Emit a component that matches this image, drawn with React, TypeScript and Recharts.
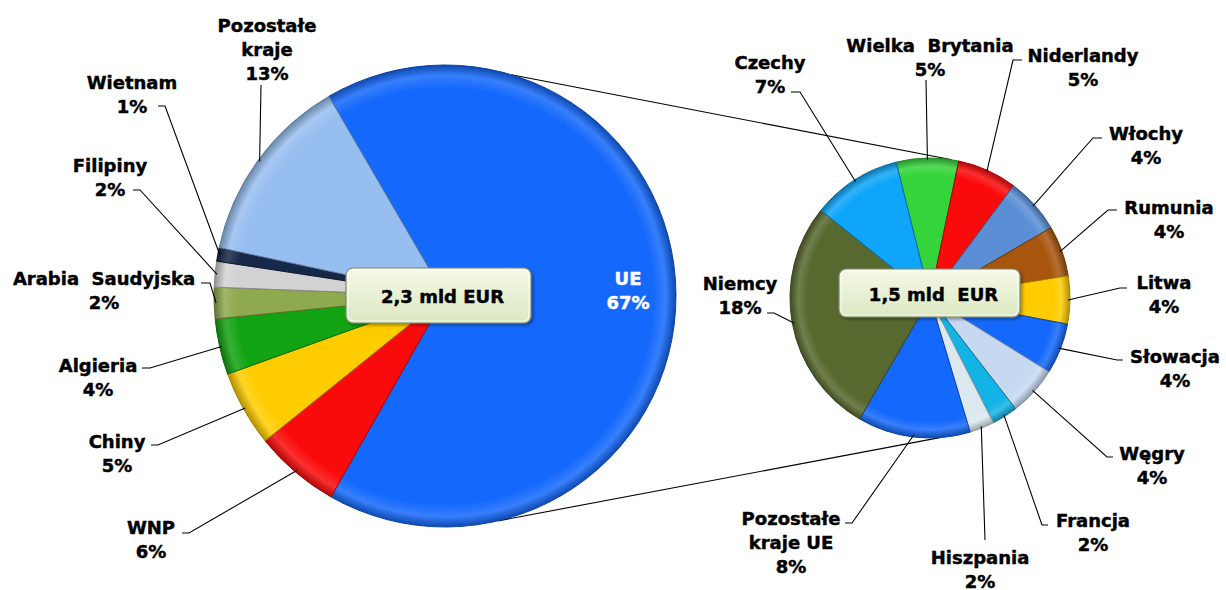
import React from 'react';
import { PieChart, Pie, Cell } from 'recharts';

// ---------- data ----------
const leftNames = ['UE', 'WNP', 'Chiny', 'Algieria', 'Arabia Saudyjska', 'Filipiny', 'Wietnam', 'Pozostałe kraje'];
const leftValues = [66.6, 6.0, 5.3, 3.9, 2.2, 1.8, 0.95, 13.25];
const leftPct = ['67%', '6%', '5%', '4%', '2%', '2%', '1%', '13%'];
const leftLabelLines = [['UE'], ['WNP'], ['Chiny'], ['Algieria'], ['Arabia  Saudyjska'], ['Filipiny'], ['Wietnam'], ['Pozostałe', 'kraje']];
const leftColors = ['#1468fb', '#fa0a0a', '#ffcc00', '#12a312', '#8fa94f', '#d2d2d2', '#16284a', '#97bef0'];

const rightNames = ['Wielka Brytania', 'Niderlandy', 'Włochy', 'Rumunia', 'Litwa', 'Słowacja', 'Węgry', 'Francja', 'Hiszpania', 'Pozostałe kraje UE', 'Niemcy', 'Czechy'];
const rightValues = [4.8, 4.6, 4.3, 3.9, 3.7, 3.9, 3.8, 2.0, 1.9, 8.7, 18.3, 6.9];
const rightPct = ['5%', '5%', '4%', '4%', '4%', '4%', '4%', '2%', '2%', '8%', '18%', '7%'];
const rightLabelLines = [['Wielka  Brytania'], ['Niderlandy'], ['Włochy'], ['Rumunia'], ['Litwa'], ['Słowacja'], ['Węgry'], ['Francja'], ['Hiszpania'], ['Pozostałe', 'kraje UE'], ['Niemcy'], ['Czechy']];
const rightColors = ['#35d43a', '#fa0a0a', '#5a8fd6', '#a8560e', '#ffcc00', '#1468fb', '#c6d9f1', '#12b4e6', '#dbe9ef', '#1468fb', '#58692f', '#0ea5fa'];

const leftTotalLabel = '2,3 mld EUR';
const rightTotalLabel = '1,5 mld  EUR';

// ---------- layout ----------
const LEFT = { cx: 445, cy: 296, r: 231, start: 120.2 };
const RIGHT = { cx: 930, cy: 298, r: 140, start: 104 };
const FONT = '"DejaVu Sans", Verdana, sans-serif';
const FS = 18;
const LH = 24;

type LP = { tx: number; ty: number; a?: [number, number]; e?: [number, number]; inside?: boolean };
const leftLayout: LP[] = [
  { tx: 628, ty: 278, inside: true },
  { tx: 151, ty: 527, a: [182, 533], e: [189, 533] },
  { tx: 117, ty: 441, a: [151, 445], e: [158, 445] },
  { tx: 98, ty: 365, a: [142, 368], e: [150, 368] },
  { tx: 104, ty: 278, a: [201, 283], e: [210, 283] },
  { tx: 110, ty: 165, a: [133, 190], e: [140, 190] },
  { tx: 132, ty: 82, a: [158, 106], e: [165, 106] },
  { tx: 267, ty: 25, a: [261, 85], e: [261, 85] },
];
const rightLayout: LP[] = [
  { tx: 930, ty: 45, a: [926, 80], e: [926, 80] },
  { tx: 1083, ty: 55, a: [1022, 60], e: [1013, 60] },
  { tx: 1146, ty: 133, a: [1102, 138], e: [1093, 138] },
  { tx: 1169, ty: 207, a: [1117, 210], e: [1108, 210] },
  { tx: 1164, ty: 282, a: [1127, 288], e: [1120, 288] },
  { tx: 1175, ty: 356, a: [1123, 360], e: [1117, 360] },
  { tx: 1152, ty: 453, a: [1113, 457], e: [1107, 457] },
  { tx: 1093, ty: 520, a: [1048, 525], e: [1042, 525] },
  { tx: 980, ty: 557, a: [985, 540], e: [985, 540] },
  { tx: 791, ty: 518, a: [845, 523], e: [852, 523] },
  { tx: 740, ty: 283, a: [767, 313], e: [774, 313] },
  { tx: 770, ty: 62, a: [791, 92], e: [800, 92] },
];

// connector angles (clockwise from top, degrees) on [left pie, right pie]
const connectors = [
  [16.7, 9],
  [166.8, 176],
];

const RAD = Math.PI / 180;

function shade(hex: string, f: number) {
  const n = parseInt(hex.slice(1), 16);
  let r = (n >> 16) & 255, g = (n >> 8) & 255, b = n & 255;
  if (f < 0) {
    r = Math.round(r * (1 + f)); g = Math.round(g * (1 + f)); b = Math.round(b * (1 + f));
  } else {
    r = Math.round(r + (255 - r) * f); g = Math.round(g + (255 - g) * f); b = Math.round(b + (255 - b) * f);
  }
  return `rgb(${r},${g},${b})`;
}

const makeLabel = (layout: LP[], lines: string[][], pct: string[]) => (props: any) => {
  const { cx, cy, midAngle, outerRadius, index } = props;
  const L = layout[index];
  if (!L) return null;
  const textLines = [...lines[index], pct[index]];
  const fill = L.inside ? '#ffffff' : '#000000';
  let line = null;
  if (L.a && L.e) {
    const px = cx + (outerRadius - 2) * Math.cos(-midAngle * RAD);
    const py = cy + (outerRadius - 2) * Math.sin(-midAngle * RAD);
    line = (
      <polyline
        points={`${L.a[0]},${L.a[1]} ${L.e[0]},${L.e[1]} ${px},${py}`}
        fill="none"
        stroke="#000"
        strokeWidth={1.1}
      />
    );
  }
  return (
    <g key={`lbl-${index}`}>
      {line}
      {textLines.map((t, k) => (
        <text
          key={k}
          x={L.tx}
          y={L.ty + k * LH}
          textAnchor="middle"
          dominantBaseline="central"
          fontFamily={FONT}
          fontWeight="bold"
          fontSize={FS}
          fill={fill}
          stroke={fill}
          strokeWidth={0.45}
          style={{ whiteSpace: 'pre' }}
        >
          {t}
        </text>
      ))}
    </g>
  );
};

const leftData = leftNames.map((n, i) => ({ name: n, value: leftValues[i] }));
const rightData = rightNames.map((n, i) => ({ name: n, value: rightValues[i] }));

function polar(p: { cx: number; cy: number; r: number }, deg: number) {
  return [p.cx + p.r * Math.sin(deg * RAD), p.cy - p.r * Math.cos(deg * RAD)];
}

const TotalBox = ({ x, y, w, h, label }: { x: number; y: number; w: number; h: number; label: string }) => (
  <g>
    <rect x={x} y={y} width={w} height={h} rx={7} ry={7} fill="url(#boxFill)" stroke="#7d8a6c" strokeWidth={1.2} filter="url(#boxShadow)" />
    <rect x={x + 2} y={y + 2} width={w - 4} height={h - 4} rx={5} ry={5} fill="none" stroke="#ffffff" strokeOpacity={0.7} strokeWidth={1.2} />
    <text x={x + w / 2 + 4} y={y + h / 2 + 1} textAnchor="middle" dominantBaseline="central" fontFamily={FONT} fontWeight="bold" fontSize={FS} fill="#000" stroke="#000" strokeWidth={0.45} style={{ whiteSpace: 'pre' }}>
      {label}
    </text>
  </g>
);

export default function App() {
  const conLines = connectors.map(([a, b]) => {
    const p1 = polar(LEFT, a);
    const p2 = polar(RIGHT, b);
    return [p1, p2];
  });
  return (
    <div style={{ position: 'absolute', left: 0, top: 0, width: 1226, height: 590, background: '#fff' }}>
      <PieChart width={1226} height={590} margin={{ top: 0, right: 0, bottom: 0, left: 0 }}>
        <defs>
          {leftColors.map((c, i) => (
            <radialGradient key={`gl${i}`} id={`gl${i}`} gradientUnits="userSpaceOnUse" cx={LEFT.cx} cy={LEFT.cy} r={LEFT.r}>
              <stop offset="0" stopColor={c} />
              <stop offset="0.9" stopColor={c} />
              <stop offset="0.955" stopColor={shade(c, 0.15)} />
              <stop offset="1" stopColor={shade(c, -0.3)} />
            </radialGradient>
          ))}
          {rightColors.map((c, i) => (
            <radialGradient key={`gr${i}`} id={`gr${i}`} gradientUnits="userSpaceOnUse" cx={RIGHT.cx} cy={RIGHT.cy} r={RIGHT.r}>
              <stop offset="0" stopColor={c} />
              <stop offset="0.88" stopColor={c} />
              <stop offset="0.94" stopColor={shade(c, 0.15)} />
              <stop offset="1" stopColor={shade(c, -0.3)} />
            </radialGradient>
          ))}
        </defs>
        {conLines.map(([p1, p2], i) => (
          <line key={`con${i}`} x1={p1[0]} y1={p1[1]} x2={p2[0]} y2={p2[1]} stroke="#000" strokeWidth={1.1} />
        ))}
        <Pie
          data={leftData}
          dataKey="value"
          nameKey="name"
          cx={LEFT.cx}
          cy={LEFT.cy}
          outerRadius={LEFT.r}
          startAngle={LEFT.start}
          endAngle={LEFT.start - 360}
          isAnimationActive={false}
          labelLine={false}
          label={makeLabel(leftLayout, leftLabelLines, leftPct)}
          stroke="#5f6f80"
          strokeWidth={1}
        >
          {leftData.map((d, i) => (
            <Cell key={d.name} fill={`url(#gl${i})`} stroke={shade(leftColors[i], -0.35)} />
          ))}
        </Pie>
        <Pie
          data={rightData}
          dataKey="value"
          nameKey="name"
          cx={RIGHT.cx}
          cy={RIGHT.cy}
          outerRadius={RIGHT.r}
          startAngle={RIGHT.start}
          endAngle={RIGHT.start - 360}
          isAnimationActive={false}
          labelLine={false}
          label={makeLabel(rightLayout, rightLabelLines, rightPct)}
          stroke="#5f6f80"
          strokeWidth={1}
        >
          {rightData.map((d, i) => (
            <Cell key={d.name} fill={`url(#gr${i})`} stroke={shade(rightColors[i], -0.35)} />
          ))}
        </Pie>
      </PieChart>
      <svg width={1226} height={590} style={{ position: 'absolute', left: 0, top: 0, pointerEvents: 'none' }}>
        <defs>
          <linearGradient id="boxFill" x1="0" y1="0" x2="0" y2="1">
            <stop offset="0" stopColor="#f4f9e6" />
            <stop offset="1" stopColor="#dce8c2" />
          </linearGradient>
          <filter id="boxShadow" x="-10%" y="-20%" width="130%" height="160%">
            <feDropShadow dx="2" dy="2" stdDeviation="1.5" floodColor="#000" floodOpacity="0.35" />
          </filter>
        </defs>
        <TotalBox x={346} y={268} w={185} h={55} label={leftTotalLabel} />
        <TotalBox x={839} y={269} w={181} h={48} label={rightTotalLabel} />
      </svg>
    </div>
  );
}
